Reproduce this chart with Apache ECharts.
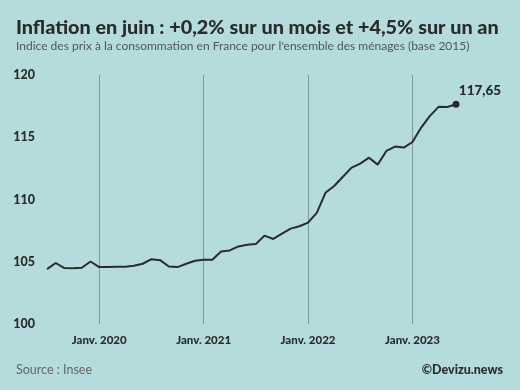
<!DOCTYPE html>
<html><head><meta charset="utf-8">
<script src="https://cdn.jsdelivr.net/npm/echarts@6/dist/echarts.min.js"></script>
<style>html,body{margin:0;padding:0;background:#b4dcdd}#c{width:520px;height:390px}</style>
</head><body><div id="c"></div>
<script>
const months = [];
for (let y = 2019; y <= 2023; y++) for (let m = 1; m <= 12; m++) {
  if ((y === 2019 && m < 7) || (y === 2023 && m > 6)) continue;
  months.push(y + '-' + String(m).padStart(2, '0'));
}
const values = [
  104.41, 104.9, 104.49, 104.47, 104.52, 105.02,
  104.57, 104.57, 104.6, 104.6, 104.68, 104.84, 105.21, 105.13, 104.62, 104.57, 104.84, 105.08,
  105.16, 105.16, 105.83, 105.91, 106.23, 106.37, 106.42, 107.1, 106.83, 107.26, 107.66, 107.85,
  108.14, 108.92, 110.54, 111.08, 111.83, 112.56, 112.88, 113.36, 112.8, 113.9, 114.25, 114.17,
  114.62, 115.78, 116.72, 117.44, 117.43, 117.65
];
const yTicks = [100, 105, 110, 115, 120];
const lastLabel = '117,65';
const F = 'Lato, "Open Sans", sans-serif';
const isJan = v => v.endsWith('-01');
const last = values.length - 1;
const chart = echarts.init(document.getElementById('c'), null, {renderer: 'canvas'});
chart.setOption({
  backgroundColor: '#b4dcdd',
  animation: false,
  title: [
    {text: 'Inflation en juin : +0,2% sur un mois et +4,5% sur un an', left: 16, top: 18, padding: 0,
     textStyle: {fontFamily: F, fontSize: 19.8, fontWeight: 900, color: '#2b2b2b'}},
    {text: "Indice des prix à la consommation en France pour l'ensemble des ménages (base 2015)", left: 16, top: 40, padding: 0,
     textStyle: {fontFamily: F, fontSize: 12, fontWeight: 'normal', color: '#555'}},
    {text: 'Source : Insee', left: 16, top: 363, padding: 0, textStyle: {fontFamily: F, fontSize: 12.5, fontWeight: 'normal', color: '#666'}},
    {text: '©Devizu.news', right: 17, top: 363, padding: 0, textStyle: {fontFamily: F, fontSize: 12.5, fontWeight: 900, color: '#2b2b2b'}}
  ],
  grid: {left: 47, right: 64, top: 75, bottom: 66},
  xAxis: {
    type: 'category', data: months, boundaryGap: false,
    axisLine: {show: false}, axisTick: {show: false},
    axisLabel: {interval: (i, v) => isJan(v), formatter: v => 'Janv. ' + v.slice(0, 4),
      fontFamily: F, fontSize: 11.5, fontWeight: 900, color: '#2b2b2b', margin: 10},
    splitLine: {show: true, interval: (i, v) => isJan(v), lineStyle: {color: '#7d9a9a', width: 1}}
  },
  yAxis: {
    type: 'value', min: yTicks[0], max: yTicks[yTicks.length - 1], interval: 5,
    axisLine: {show: false}, axisTick: {show: false}, splitLine: {show: false},
    axisLabel: {fontFamily: F, fontSize: 12.5, fontWeight: 900, color: '#2b2b2b', margin: 12}
  },
  series: [{
    type: 'line', showSymbol: true, symbol: 'circle',
    symbolSize: (v, p) => p.dataIndex === last ? 7 : 0,
    itemStyle: {color: '#2d2a2a'},
    lineStyle: {color: '#2d2a2a', width: 2},
    label: {show: true, formatter: p => p.dataIndex === last ? lastLabel : '',
      position: 'top', offset: [24, 2],
      fontFamily: F, fontSize: 13.5, fontWeight: 900, color: '#2b2b2b'},
    data: values
  }]
});
</script></body></html>
